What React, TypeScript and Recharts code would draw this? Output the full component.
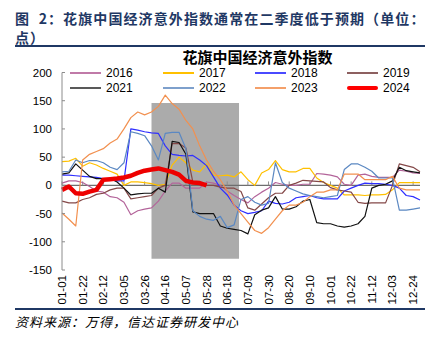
import React from 'react';
import { LineChart, Line, XAxis, YAxis, ReferenceArea, ReferenceLine } from 'recharts';

const days = [0, 7, 14, 21, 28, 35, 42, 49, 56, 63, 70, 77, 84, 91, 98, 105, 112, 119, 126, 133, 140, 147, 154, 161, 168, 175, 182, 189, 196, 203, 210, 217, 224, 231, 238, 245, 252, 259, 266, 273, 280, 287, 294, 301, 308, 315, 322, 329, 336, 343, 350, 357, 364];

const tickDays = [0, 21, 42, 63, 84, 105, 126, 147, 168, 189, 210, 231, 252, 273, 294, 315, 336, 357];
const tickLabels = ['01-01', '01-22', '02-12', '03-05', '03-26', '04-16', '05-07', '05-28', '06-18', '07-09', '07-30', '08-20', '09-10', '10-01', '10-22', '11-12', '12-03', '12-24'];
const yTicks = [-150, -100, -50, 0, 50, 100, 150, 200];

const s2016 = [4, 8, 8, 5, -2, -10, -12, -20, -22, -30, -52, -45, -42, -40, -28, -10, 4, 4, -5, -5, -5, 6, 4, 0, -10, -18, -25, -31, -20, -12, -5, 5, 2, 0, 0, 2, 2, 21, 20, 18, 15, 2, 0, 18, 20, 16, 14, 14, 14, 27, 25, 22, 21];
const s2017 = [42, 43, 48, 34, 40, 36, 30, 25, 20, 0, 6, 6, 5, 3, 0, 2, 36, 50, 40, 27, 24, 38, 18, 17, 18, 15, 24, 10, 0, 22, 28, 44, 28, 24, 24, 30, 30, 13, 5, 0, -5, -17, -17, -17, -18, -17, -17, -16, -8, 5, 5, 5, 5];
const s2018 = [18, 18, 17, 16, 15, 14, 12, 10, 8, 8, 100, 98, 95, 93, 92, 70, 55, 53, 52, 53, 45, 35, 15, -5, -17, -35, -45, -50, -48, -45, -28, -32, -33, -30, -22, -20, -18, -22, -24, -24, -24, -10, -5, 0, 4, 3, 3, 2, 0, -5, -18, -20, -26];
const s2019 = [-28, -31, -31, -25, -22, -16, -14, -8, -5, -5, -24, -22, -20, -18, -5, 0, 74, 74, 66, 6, 4, 0, 0, -3, -5, -5, -11, -40, -44, -33, -22, -14, -14, 0, 4, 9, 8, 7, 6, -4, -8, -10, -12, -30, -32, -31, -31, -31, 0, 38, 35, 32, 24];
const s2021 = [20, 22, 38, 27, 16, 12, 12, 12, 6, -5, -17, -15, -14, -14, -5, -12, 78, 76, 55, -47, -50, -50, -50, -72, -76, -78, -80, -86, -52, -44, -40, -20, -42, -42, -38, -28, -25, -66, -68, -68, -72, -74, -72, -68, -55, -5, 0, 2, 8, 32, 26, 24, 22];
const s2022 = [24, 25, 45, 40, 44, 44, 40, 32, 28, 40, 95, 92, 88, 70, 45, 92, 94, 94, 65, -45, -55, -60, -62, -55, -75, -70, -25, -20, -30, -35, -32, 40, 5, -5, -10, -15, -18, -20, -22, -20, -18, 28, 38, 38, 32, 25, 13, 13, 13, -44, -44, -42, -40];
const s2023 = [-49, -60, -72, 45, 55, 60, 65, 75, 82, 100, 120, 130, 125, 130, 140, 160, 145, 135, 115, 100, 70, 45, 25, 10, -10, -35, -50, -65, -80, -85, -75, -60, -45, -35, -35, -30, -20, -12, -12, -8, -8, 20, 20, 20, 10, 10, 10, 10, 16, -5, -8, -8, -8];
const s2024 = [-8, -2, -14, -15, -11, -8, 10, 11, 12, 14, 17, 22, 26, 28, 30, 27, 24, 19, 8, 5, 4, 0];

const seriesNames = ['2016', '2017', '2018', '2019', '2021', '2022', '2023', '2024'];
const seriesValues = [s2016, s2017, s2018, s2019, s2021, s2022, s2023, s2024];

const seriesColors: Record<string, string> = {
  '2016': '#b3649a',
  '2017': '#ffc000',
  '2018': '#2f2fff',
  '2019': '#844848',
  '2021': '#111111',
  '2022': '#5b88c2',
  '2023': '#f2904f',
  '2024': '#ee0000',
};
const legendColors: Record<string, string> = {
  '2016': '#c07aa8',
  '2017': '#ffc000',
  '2018': '#4a4aff',
  '2019': '#8d6060',
  '2021': '#595959',
  '2022': '#7ea0cc',
  '2023': '#f4a06a',
  '2024': '#ff0000',
};

const data = days.map((day, i) => {
  const row: Record<string, number | null> = { day };
  seriesNames.forEach((name, k) => {
    const v = seriesValues[k][i];
    row['y' + name] = v === undefined ? null : v;
  });
  return row;
});

const XTick = (props: any) => {
  const { x, y, payload } = props;
  const idx = tickDays.indexOf(payload.value);
  const label = idx >= 0 ? tickLabels[idx] : '';
  return (
    <text
      x={x}
      y={y}
      transform={`rotate(-90, ${x}, ${y})`}
      textAnchor="end"
      dominantBaseline="central"
      fontSize={11.5}
      fontFamily="'Liberation Sans', Arial, sans-serif"
      fill="#000"
    >
      {label}
    </text>
  );
};

const legendCols = [70, 163, 255, 347];
const legendRows = [73, 88];

export default function App() {
  return (
    <div style={{ position: 'absolute', left: 0, top: 0, width: 445, height: 342, background: '#fff', overflow: 'hidden' }}>
      <div
        style={{
          position: 'absolute',
          left: 15,
          top: 9,
          width: 420,
          fontFamily: "'Noto Sans CJK SC', sans-serif",
          fontWeight: 700,
          fontSize: 14,
          lineHeight: '19px',
          letterSpacing: 1.1,
          color: '#1f3864',
          whiteSpace: 'nowrap',
        }}
      >
        <div>图&nbsp;&nbsp;2：花旗中国经济意外指数通常在二季度低于预期（单位：</div>
        <div>点）</div>
      </div>
      <div style={{ position: 'absolute', left: 15, top: 45, width: 410, height: 2, background: '#1f3864' }} />

      <div style={{ position: 'absolute', left: 0, top: 0 }}>
        <LineChart width={445} height={342} data={data} margin={{ top: 72.5, right: 25, bottom: 32, left: 12 }}>
          <XAxis
            dataKey="day"
            type="number"
            domain={[0, 364]}
            ticks={tickDays}
            interval={0}
            axisLine={false}
            tickLine={false}
            tickSize={0}
            tickMargin={5}
            height={40}
            tick={<XTick />}
          />
          <YAxis
            type="number"
            domain={[-150, 200]}
            ticks={yTicks}
            interval={0}
            width={50}
            axisLine={{ stroke: '#8c8c8c' }}
            tickLine={{ stroke: '#8c8c8c' }}
            tickSize={-3}
            tickMargin={13}
            tick={{ fontSize: 11.5, fill: '#000', fontFamily: "'Liberation Sans', Arial, sans-serif" }}
          />
          <ReferenceArea x1={91} x2={180} y1={-130} y2={146} fill="#ababab" fillOpacity={1} stroke="none" />
          <ReferenceLine y={0} stroke="#6e6e6e" strokeWidth={1.2} />
          {tickDays.map((d) => (
            <ReferenceLine
              key={'t' + d}
              segment={[{ x: d, y: 0 }, { x: d, y: 7 }]}
              stroke="#8c8c8c"
              strokeWidth={1}
            />
          ))}
          {seriesNames.map((name) => (
            <Line
              key={name}
              type="linear"
              dataKey={'y' + name}
              stroke={seriesColors[name]}
              strokeWidth={name === '2024' ? 4.5 : 1.2}
              dot={false}
              isAnimationActive={false}
              connectNulls={false}
              strokeLinejoin="round"
            />
          ))}
        </LineChart>
      </div>

      <div
        style={{
          position: 'absolute',
          left: 180,
          top: 49,
          width: 155,
          height: 15,
          textAlign: 'center',
          fontFamily: "'Noto Sans CJK SC', sans-serif",
          fontWeight: 700,
          fontSize: 15,
          lineHeight: '15px',
          color: '#000',
          whiteSpace: 'nowrap',
        }}
      >
        花旗中国经济意外指数
      </div>

      {seriesNames.map((name, i) => {
        const col = legendCols[i % 4];
        const row = legendRows[Math.floor(i / 4)];
        const thick = name === '2024' ? 4 : 1.6;
        return (
          <div key={name}>
            <div
              style={{
                position: 'absolute',
                left: col,
                top: row - thick / 2,
                width: 31,
                height: thick,
                background: legendColors[name],
                borderRadius: name === '2024' ? 2 : 0,
              }}
            />
            <div
              style={{
                position: 'absolute',
                left: col + 36,
                top: row - 6,
                height: 13,
                lineHeight: '13px',
                fontFamily: "'Liberation Sans', Arial, sans-serif",
                fontSize: 12,
                color: '#000',
              }}
            >
              {name}
            </div>
          </div>
        );
      })}

      <div style={{ position: 'absolute', left: 15, top: 308, width: 410, height: 2, background: '#1f3864' }} />
      <div
        style={{
          position: 'absolute',
          left: 15,
          top: 313,
          fontFamily: "'Noto Sans CJK SC', sans-serif",
          fontStyle: 'italic',
          fontSize: 13,
          lineHeight: '18px',
          letterSpacing: 1,
          color: '#000',
          whiteSpace: 'nowrap',
        }}
      >
        资料来源：万得，信达证券研发中心
      </div>
    </div>
  );
}
